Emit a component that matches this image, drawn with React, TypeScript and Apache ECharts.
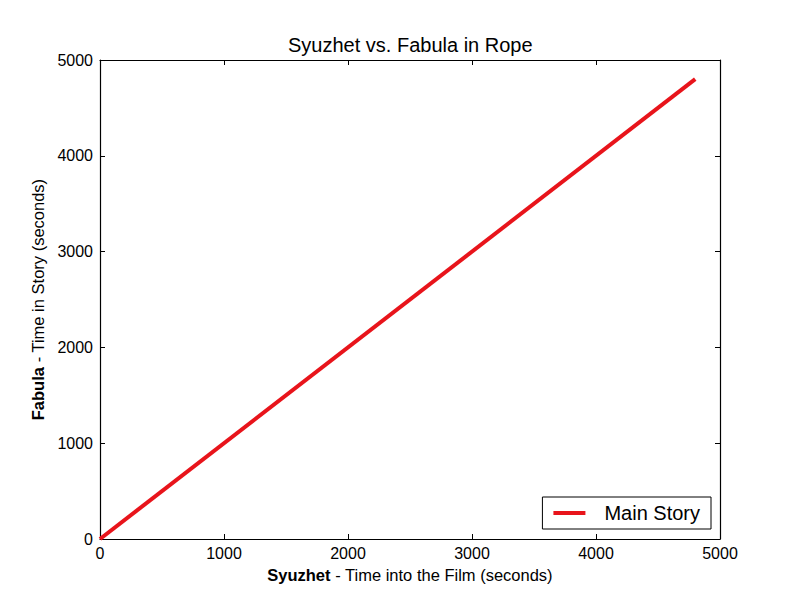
import React, { useEffect, useRef } from "react";
import * as echarts from "echarts";

const syuzhet = [0, 4800];
const fabula = [0, 4800];
const seriesName = "Main Story";
const titleText = "Syuzhet vs. Fabula in Rope";
const xTitleBold = "Syuzhet";
const xTitleRest = " - Time into the Film (seconds)";
const yTitleBold = "Fabula";
const yTitleRest = " - Time in Story (seconds)";

const FONT = "Liberation Sans, Arial, sans-serif";

export default function App() {
  const ref = useRef<HTMLDivElement>(null);
  useEffect(() => {
    if (!ref.current) return;
    const chart = echarts.init(ref.current, undefined, { renderer: "svg" });
    const tickCommon = {
      show: true,
      inside: true,
      length: 5,
      lineStyle: { color: "#000", width: 1 },
    };
    const axisLineCommon = { show: true, onZero: false, lineStyle: { color: "#000", width: 1.2 } };
    const fmt = (v: number) => String(v);
    chart.setOption({
      animation: false,
      backgroundColor: "#fff",
      title: {
        text: titleText,
        left: 288,
        top: 35,
        padding: 0,
        textStyle: { fontFamily: FONT, fontSize: 20, fontWeight: "normal", color: "#000" },
      },
      grid: { left: 100, right: 80, top: 60, bottom: 61, containLabel: false },
      legend: {
        right: 89,
        bottom: 71,
        orient: "horizontal",
        data: [{ name: seriesName, icon: "rect" }],
        itemWidth: 32,
        itemHeight: 4,
        itemGap: 10,
        padding: [6, 11, 6, 11],
        borderColor: "#000",
        borderWidth: 1,
        borderRadius: 0,
        backgroundColor: "#fff",
        textStyle: { fontFamily: FONT, fontSize: 20, color: "#000", padding: [0, 0, 0, 14] },
      },
      xAxis: [
        {
          type: "value",
          min: 0,
          max: 5000,
          interval: 1000,
          position: "bottom",
          splitLine: { show: false },
          axisLine: axisLineCommon,
          axisTick: tickCommon,
          axisLabel: { fontFamily: FONT, fontSize: 16, color: "#000", margin: 6, formatter: fmt },
          name: `{b|${xTitleBold}}{r|${xTitleRest}}`,
          nameLocation: "middle",
          nameGap: 27,
          nameTextStyle: {
            rich: {
              b: { fontFamily: FONT, fontSize: 16.5, fontWeight: "bold", color: "#000" },
              r: { fontFamily: FONT, fontSize: 16.5, color: "#000" },
            },
          },
        },
        {
          type: "value",
          min: 0,
          max: 5000,
          interval: 1000,
          position: "top",
          splitLine: { show: false },
          axisLine: axisLineCommon,
          axisTick: tickCommon,
          axisLabel: { show: false },
        },
      ],
      yAxis: [
        {
          type: "value",
          min: 0,
          max: 5000,
          interval: 1000,
          position: "left",
          splitLine: { show: false },
          axisLine: axisLineCommon,
          axisTick: tickCommon,
          axisLabel: { fontFamily: FONT, fontSize: 16, color: "#000", margin: 7, formatter: fmt },
          name: `{b|${yTitleBold}}{r|${yTitleRest}}`,
          nameLocation: "middle",
          nameGap: 51,
          nameRotate: 90,
          nameTextStyle: {
            rich: {
              b: { fontFamily: FONT, fontSize: 16.5, fontWeight: "bold", color: "#000" },
              r: { fontFamily: FONT, fontSize: 16.5, color: "#000" },
            },
          },
        },
        {
          type: "value",
          min: 0,
          max: 5000,
          interval: 1000,
          position: "right",
          splitLine: { show: false },
          axisLine: axisLineCommon,
          axisTick: tickCommon,
          axisLabel: { show: false },
        },
      ],
      series: [
        {
          name: seriesName,
          type: "line",
          xAxisIndex: 0,
          yAxisIndex: 0,
          data: syuzhet.map((x, i) => [x, fabula[i]]),
          showSymbol: false,
          symbol: "none",
          color: "#e8141b",
          lineStyle: { color: "#e8141b", width: 4 },
          clip: false,
        },
      ],
    });
    return () => chart.dispose();
  }, []);
  return <div ref={ref} style={{ width: 800, height: 600, position: "absolute", left: 0, top: 0 }} />;
}
